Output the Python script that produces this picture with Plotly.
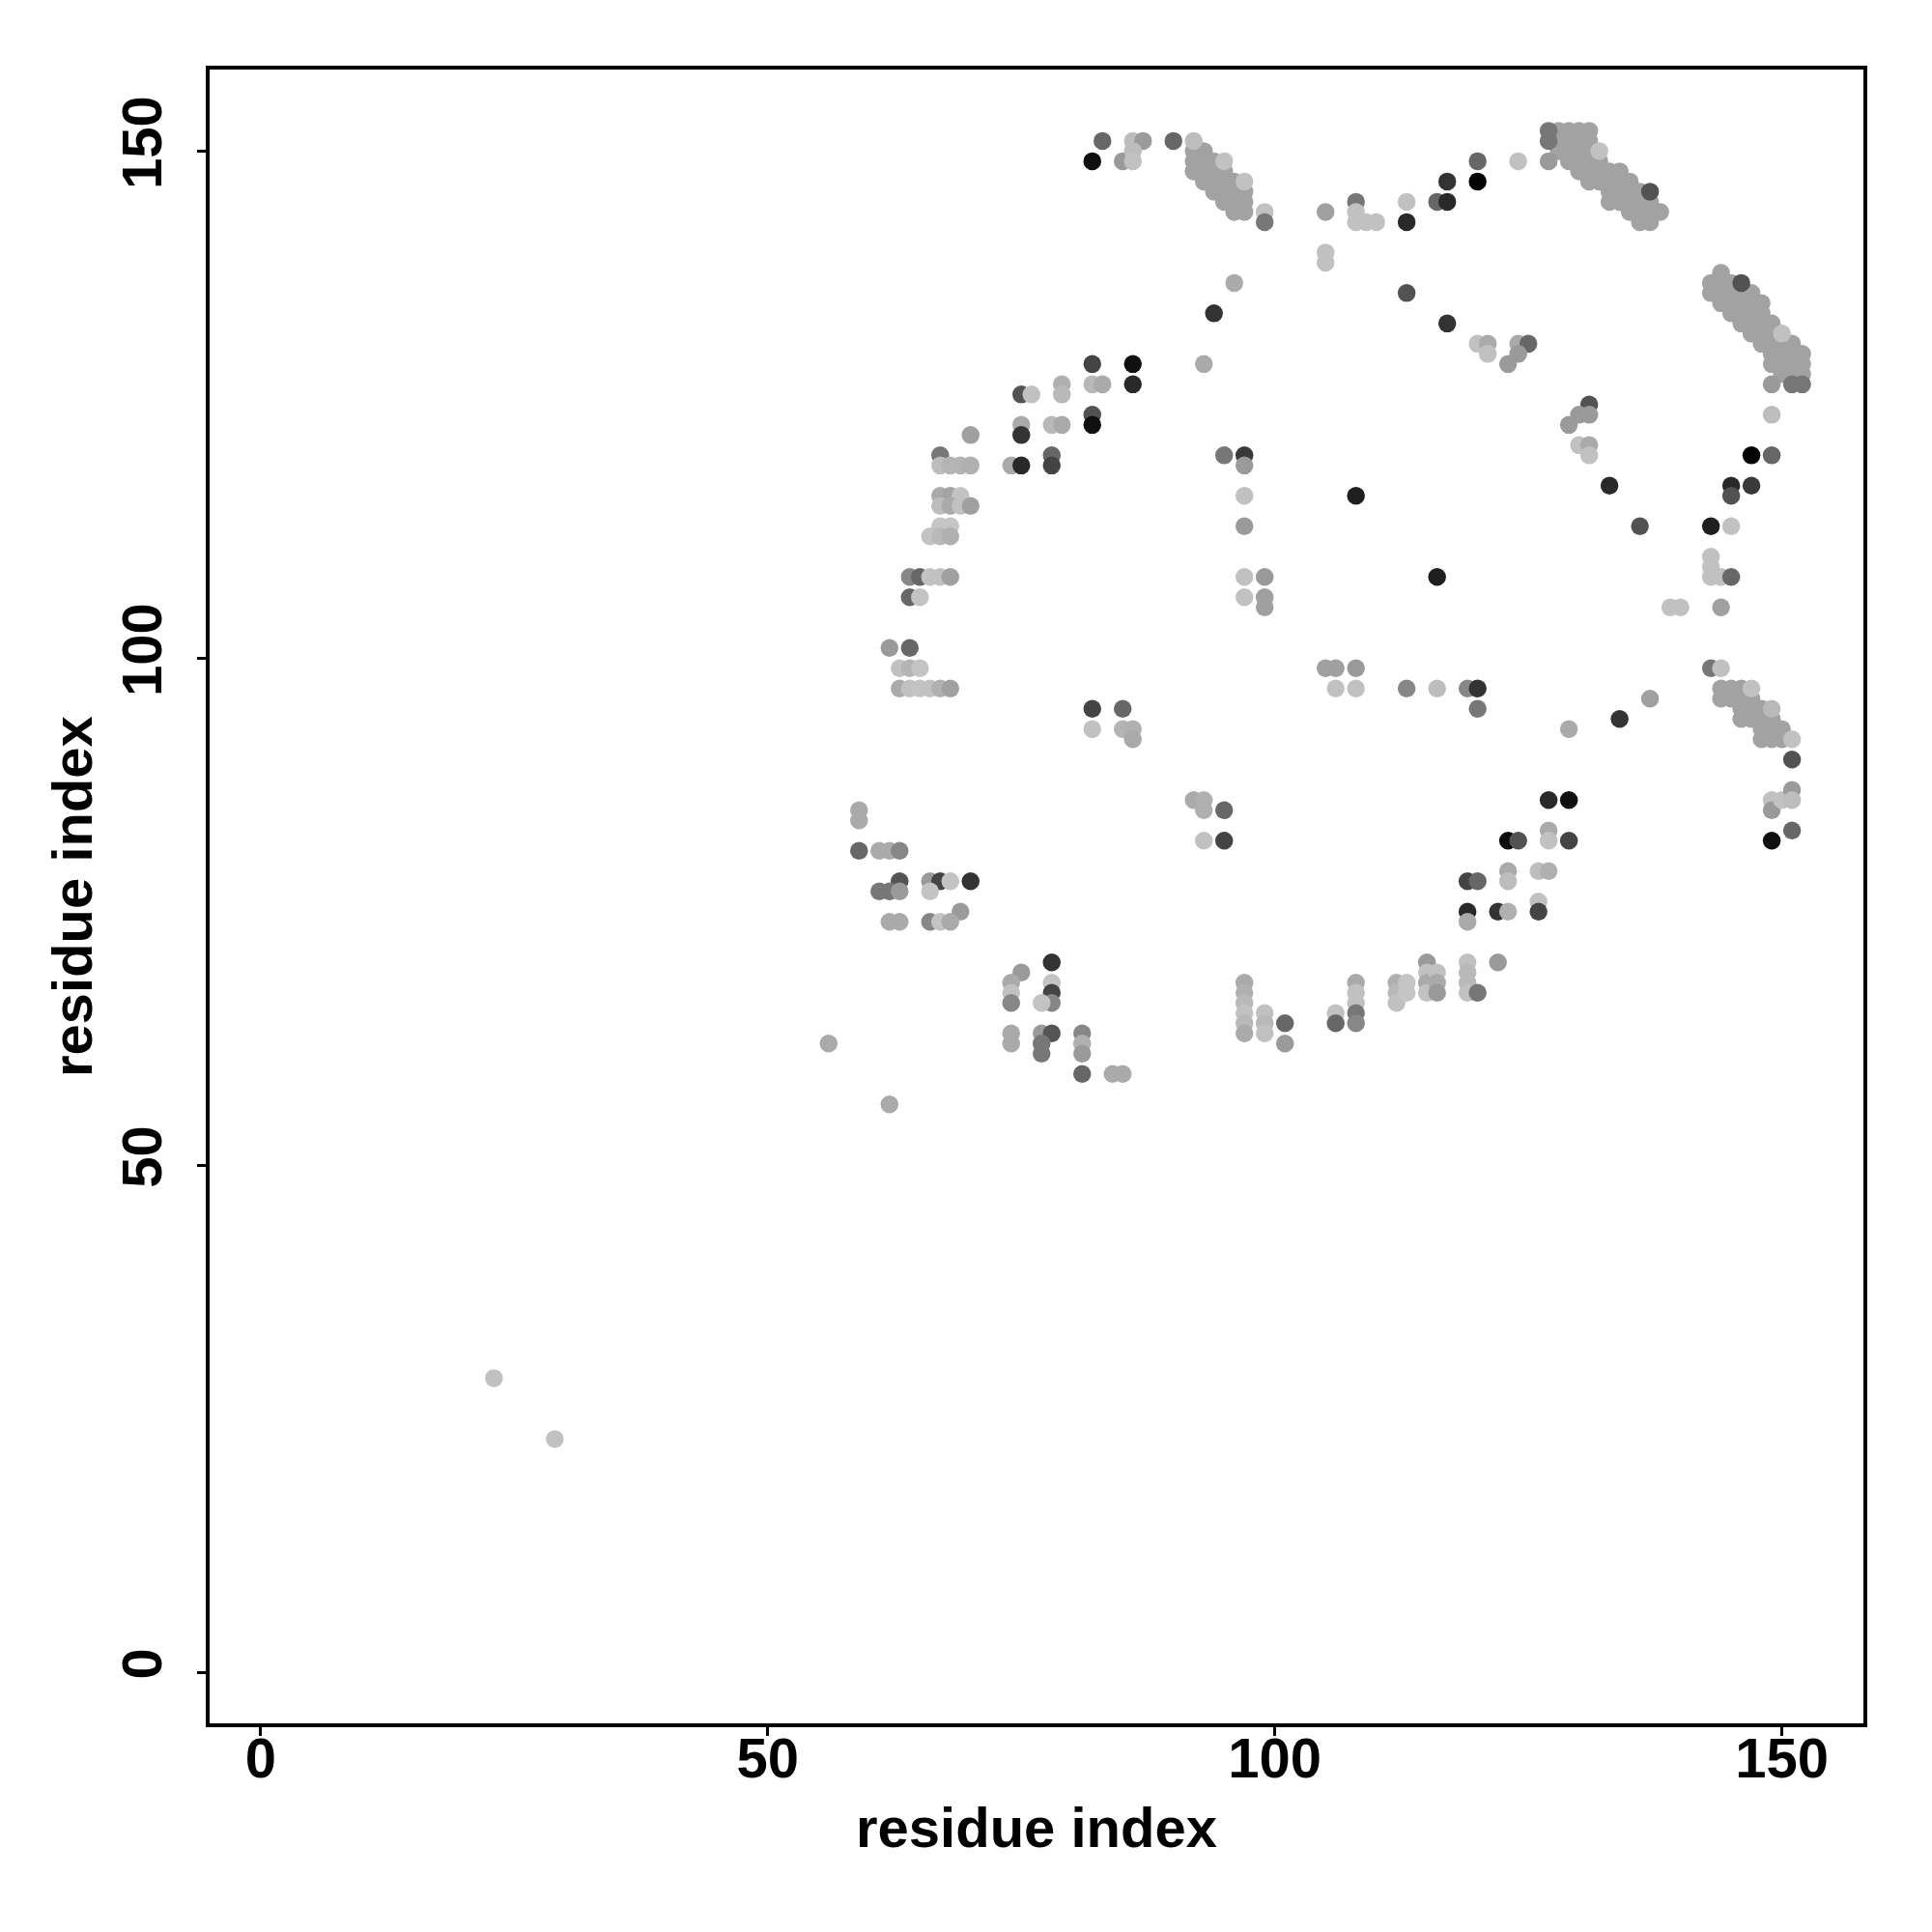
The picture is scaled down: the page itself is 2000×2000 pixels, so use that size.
import plotly.graph_objects as go

# ---------------- data: residue contacts (i, j) and contact score (0 light .. 1 dark) ----------------
# diagonal band near (92..97, 144..151)
band1_i = [92, 93, 92, 93, 94, 92, 93, 94, 95, 93, 94, 95, 96, 94, 95, 96, 97, 95, 96, 97, 96, 97]
band1_j = [150, 150, 149, 149, 149, 148, 148, 148, 148, 147, 147, 147, 147, 146, 146, 146, 146, 145, 145, 145, 144, 144]
band1_s = [0.21, 0.21, 0.21, 0.21, 0.21, 0.21, 0.21, 0.21, 0.21, 0.21, 0.21, 0.21, 0.21, 0.21, 0.21, 0.21, 0.21,
           0.21, 0.21, 0.21, 0.21, 0.21]

# diagonal band near (127..138, 143..152)
band2_i = [128, 129, 130, 131, 128, 129, 130, 131, 128, 129, 130, 131, 129, 130, 131, 132, 130, 131, 132, 133, 134,
           131, 132, 133, 134, 135, 133, 134, 135, 136, 133, 134, 135, 136, 137, 135, 136, 137, 138, 136, 137]
band2_j = [152, 152, 152, 152, 151, 151, 151, 151, 150, 150, 150, 150, 149, 149, 149, 149, 148, 148, 148, 148, 148,
           147, 147, 147, 147, 147, 146, 146, 146, 146, 145, 145, 145, 145, 145, 144, 144, 144, 144, 143, 143]
band2_s = [0.21, 0.21, 0.21, 0.21, 0.21, 0.21, 0.21, 0.21, 0.21, 0.21, 0.21, 0.21, 0.21, 0.21, 0.21, 0.21, 0.21,
           0.21, 0.21, 0.21, 0.21, 0.21, 0.21, 0.21, 0.21, 0.21, 0.21, 0.21, 0.21, 0.21, 0.21, 0.21, 0.21, 0.21,
           0.21, 0.21, 0.21, 0.21, 0.21, 0.21, 0.21]

# diagonal band near (143..152, 128..138)
band3_i = [144, 143, 144, 145, 143, 144, 145, 146, 147, 144, 145, 146, 147, 148, 145, 146, 147, 148, 146, 147, 148,
           149, 147, 148, 149, 148, 149, 150, 151, 149, 150, 151, 152, 149, 150, 151, 152, 150, 151, 152]
band3_j = [138, 137, 137, 137, 136, 136, 136, 136, 136, 135, 135, 135, 135, 135, 134, 134, 134, 134, 133, 133, 133,
           133, 132, 132, 132, 131, 131, 131, 131, 130, 130, 130, 130, 129, 129, 129, 129, 128, 128, 128]
band3_s = [0.21, 0.21, 0.21, 0.21, 0.21, 0.21, 0.21, 0.21, 0.21, 0.21, 0.21, 0.21, 0.21, 0.21, 0.21, 0.21, 0.21,
           0.21, 0.21, 0.21, 0.21, 0.21, 0.21, 0.21, 0.21, 0.21, 0.21, 0.21, 0.21, 0.21, 0.21, 0.21, 0.21, 0.21,
           0.21, 0.21, 0.21, 0.21, 0.21, 0.21]

# diagonal band near (144..151, 92..97)
band4_i = [144, 145, 146, 144, 145, 146, 147, 146, 147, 148, 146, 147, 148, 149, 148, 149, 150, 148, 149, 150]
band4_j = [97, 97, 97, 96, 96, 96, 96, 95, 95, 95, 94, 94, 94, 94, 93, 93, 93, 92, 92, 92]
band4_s = [0.21, 0.21, 0.21, 0.21, 0.21, 0.21, 0.21, 0.21, 0.21, 0.21, 0.21, 0.21, 0.21, 0.21, 0.21, 0.21, 0.21,
           0.21, 0.21, 0.21]

# distinct points sitting on the bands
spec_i = [95, 97, 99, 127, 127, 132, 137, 146, 150, 147, 149, 151]
spec_j = [149, 147, 144, 152, 151, 150, 146, 137, 132, 97, 95, 92]
spec_s = [0.06, 0.06, 0.06, 0.42, 0.42, 0.06, 0.6, 0.6, 0.06, 0.06, 0.1, 0.06]

# isolated low-index contacts
far_i = [23, 29]
far_j = [29, 23]
far_s = [0.06, 0.06]

# region residues 56..85 / 56..85
ga_i = [56, 62, 59, 59, 59, 61, 62, 63, 63, 66, 67, 68, 70, 61, 62, 63, 66, 69, 62, 63, 66, 67, 68, 78, 75, 74, 74,
        74, 78, 78, 78, 77, 74, 77, 78, 81, 74, 77, 77, 81, 81, 81, 84, 85]
ga_j = [62, 56, 85, 84, 81, 81, 81, 81, 78, 78, 78, 78, 78, 77, 77, 77, 77, 75, 74, 74, 74, 74, 74, 70, 69, 68, 67,
        66, 68, 67, 66, 66, 63, 63, 63, 63, 62, 62, 61, 62, 61, 59, 59, 59]
ga_s = [0.17, 0.17, 0.17, 0.17, 0.5, 0.17, 0.17, 0.34, 0.59, 0.25, 0.67, 0.05, 0.75, 0.42, 0.42, 0.25, 0.05, 0.25,
        0.17, 0.17, 0.34, 0.05, 0.17, 0.75, 0.25, 0.17, 0.06, 0.34, 0.05, 0.67, 0.34, 0.05, 0.17, 0.25, 0.59, 0.34,
        0.17, 0.42, 0.42, 0.14, 0.25, 0.5, 0.17, 0.17]

# region residues 62..86 / 92..120
gb_i = [67, 78, 67, 68, 69, 70, 74, 75, 78, 67, 68, 69, 67, 68, 69, 70, 67, 68, 66, 67, 68, 64, 65, 66, 67, 68, 64,
        65, 62, 64, 63, 64, 65, 63, 64, 65, 66, 67, 68, 82, 85, 82, 85, 86, 86]
gb_j = [120, 120, 119, 119, 119, 119, 119, 119, 119, 116, 116, 116, 115, 115, 115, 115, 113, 113, 112, 112, 112, 108,
        108, 108, 108, 108, 106, 106, 101, 101, 99, 99, 99, 97, 97, 97, 97, 97, 97, 95, 95, 93, 93, 93, 92]
gb_s = [0.42, 0.5, 0.08, 0.12, 0.12, 0.14, 0.17, 0.8, 0.67, 0.17, 0.2, 0.05, 0.08, 0.17, 0.06, 0.22, 0.04, 0.04,
        0.05, 0.1, 0.14, 0.34, 0.5, 0.05, 0.06, 0.22, 0.5, 0.05, 0.25, 0.5, 0.06, 0.12, 0.05, 0.17, 0.06, 0.05, 0.06,
        0.14, 0.22, 0.67, 0.5, 0.06, 0.12, 0.14, 0.17]

# region residues 70..87 / 122..151
gc_i = [83, 86, 87, 82, 85, 86, 86, 82, 86, 82, 83, 86, 75, 76, 79, 79, 82, 82, 75, 75, 78, 79, 70]
gc_j = [151, 151, 151, 149, 149, 150, 149, 129, 129, 127, 127, 127, 126, 126, 127, 126, 124, 123, 123, 122, 123, 123,
        122]
gc_s = [0.5, 0.08, 0.25, 0.92, 0.25, 0.08, 0.06, 0.67, 0.92, 0.1, 0.17, 0.8, 0.6, 0.06, 0.14, 0.1, 0.6, 0.92, 0.17,
        0.75, 0.1, 0.17, 0.22]

# region residues 90..125 / 129..151
gd_i = [90, 92, 105, 108, 108, 108, 109, 110, 113, 113, 116, 117, 117, 120, 120, 105, 105, 96, 94, 113, 117, 120, 121,
        121, 124, 125, 124, 123, 93, 99]
gd_j = [151, 151, 144, 145, 144, 143, 143, 143, 145, 143, 145, 145, 147, 149, 147, 140, 139, 137, 134, 136, 133, 131,
        131, 130, 131, 131, 130, 129, 129, 143]
gd_s = [0.5, 0.08, 0.22, 0.42, 0.06, 0.06, 0.06, 0.06, 0.06, 0.8, 0.5, 0.8, 0.75, 0.5, 0.98, 0.06, 0.06, 0.17, 0.75,
        0.6, 0.75, 0.06, 0.17, 0.06, 0.17, 0.5, 0.25, 0.25, 0.17, 0.42]

# region residues 124..152 / 120..152
ge_i = [124, 127, 131, 130, 131, 129, 130, 131, 131, 149, 151, 152, 149]
ge_j = [149, 149, 125, 124, 124, 123, 121, 121, 120, 127, 127, 127, 124]
ge_s = [0.06, 0.25, 0.6, 0.25, 0.25, 0.25, 0.06, 0.17, 0.06, 0.25, 0.42, 0.42, 0.08]

# region residues 95..120 / 95..120
gf_i = [95, 97, 97, 97, 108, 97, 97, 99, 97, 99, 99, 116, 105, 106, 108, 106, 108, 113, 116, 119, 120, 120]
gf_j = [120, 120, 119, 116, 116, 113, 108, 108, 106, 106, 105, 108, 99, 99, 99, 97, 97, 97, 97, 97, 97, 95]
gf_s = [0.42, 0.72, 0.25, 0.06, 0.85, 0.25, 0.06, 0.25, 0.06, 0.22, 0.22, 0.85, 0.22, 0.22, 0.25, 0.06, 0.06, 0.34,
        0.08, 0.34, 0.75, 0.42]

# region residues 129..151 / 90..120
gg_i = [147, 149, 133, 145, 147, 145, 136, 143, 145, 143, 143, 143, 144, 145, 139, 140, 144, 143, 144, 151, 137, 134,
        129]
gg_j = [120, 120, 117, 117, 117, 116, 113, 113, 113, 110, 109, 108, 108, 108, 105, 105, 105, 99, 99, 90, 96, 94, 93]
gg_s = [0.98, 0.5, 0.8, 0.8, 0.72, 0.6, 0.6, 0.85, 0.06, 0.06, 0.06, 0.06, 0.06, 0.5, 0.06, 0.06, 0.22, 0.42, 0.06,
        0.6, 0.22, 0.75, 0.17]

# region residues 92..120 / 62..86
gh_i = [92, 93, 93, 95, 93, 95, 119, 120, 119, 119, 97, 97, 97, 97, 97, 97, 99, 99, 99, 101, 101, 106, 106, 108, 108,
        108, 108, 108, 112, 112, 112, 113, 113, 115, 115, 115, 115, 116, 116, 116, 119, 119, 119, 119, 120]
gh_j = [86, 86, 85, 85, 82, 82, 78, 78, 75, 74, 68, 67, 66, 65, 64, 63, 65, 64, 63, 64, 62, 65, 64, 68, 67, 66, 65,
        64, 68, 67, 66, 68, 67, 70, 69, 68, 67, 69, 68, 67, 70, 69, 68, 67, 67]
gh_s = [0.17, 0.14, 0.14, 0.5, 0.06, 0.67, 0.67, 0.5, 0.8, 0.17, 0.17, 0.14, 0.1, 0.06, 0.1, 0.17, 0.06, 0.1, 0.06,
        0.5, 0.25, 0.06, 0.5, 0.17, 0.06, 0.06, 0.42, 0.34, 0.14, 0.1, 0.06, 0.04, 0.04, 0.25, 0.06, 0.17, 0.06, 0.06,
        0.17, 0.25, 0.06, 0.1, 0.1, 0.06, 0.42]

# region residues 122..151 / 70..87
gk_i = [127, 129, 123, 124, 127, 127, 129, 123, 123, 126, 127, 122, 123, 126, 126, 122, 149, 149, 150, 151, 151, 149,
        151]
gk_j = [86, 86, 82, 82, 83, 82, 82, 79, 78, 79, 79, 75, 75, 76, 75, 70, 86, 85, 86, 87, 86, 82, 83]
gk_s = [0.8, 0.92, 0.95, 0.6, 0.17, 0.06, 0.67, 0.17, 0.08, 0.08, 0.14, 0.75, 0.14, 0.06, 0.67, 0.25, 0.06, 0.25,
        0.06, 0.25, 0.08, 0.92, 0.5]

tick_vals = [0, 50, 100, 150]
tick_text = ["0", "50", "100", "150"]
axis_title = "residue index"

groups = [
    (band1_i, band1_j, band1_s), (band2_i, band2_j, band2_s), (band3_i, band3_j, band3_s),
    (band4_i, band4_j, band4_s), (spec_i, spec_j, spec_s), (far_i, far_j, far_s),
    (ga_i, ga_j, ga_s), (gb_i, gb_j, gb_s), (gc_i, gc_j, gc_s), (gd_i, gd_j, gd_s),
    (ge_i, ge_j, ge_s), (gf_i, gf_j, gf_s), (gg_i, gg_j, gg_s), (gh_i, gh_j, gh_s), (gk_i, gk_j, gk_s),
]
res_i, res_j, score = [], [], []
for gi, gj, gs in groups:
    assert len(gi) == len(gj) == len(gs), (len(gi), len(gj), len(gs))
    res_i += gi
    res_j += gj
    score += gs

fig = go.Figure(go.Scatter(
    x=res_i, y=res_j, mode="markers",
    marker=dict(size=18.5, color=score, cmin=0, cmax=1,
                colorscale=[[0, "rgb(205,205,205)"], [1, "rgb(0,0,0)"]],
                showscale=False, line=dict(width=0)),
    hoverinfo="x+y",
))

font_bold = dict(family="Liberation Sans, Arial, sans-serif", size=58, color="black", weight="bold")
axis_common = dict(
    range=[-5.04, 158.04], tickvals=tick_vals, ticktext=tick_text,
    showgrid=False, zeroline=False, showline=True, linecolor="black", linewidth=4,
    mirror=True, ticks="outside", ticklen=9, tickwidth=3, tickcolor="black",
    tickfont=font_bold,
)
fig.update_xaxes(**axis_common, ticklabelstandoff=-27)
fig.update_yaxes(**axis_common, tickangle=-90, ticklabelstandoff=14)

fig.update_layout(
    width=2000, height=2000,
    margin=dict(l=209, r=79, t=64, b=224),
    plot_bgcolor="white", paper_bgcolor="white",
    showlegend=False,
    annotations=[
        dict(text=axis_title, xref="paper", yref="paper", x=0.5, y=-0.0625,
             xanchor="center", yanchor="middle", showarrow=False, font=font_bold),
        dict(text=axis_title, xref="paper", yref="paper", x=-0.0835, y=0.5, textangle=-90,
             xanchor="center", yanchor="middle", showarrow=False, font=font_bold),
    ],
)

fig.write_html("out.html")
